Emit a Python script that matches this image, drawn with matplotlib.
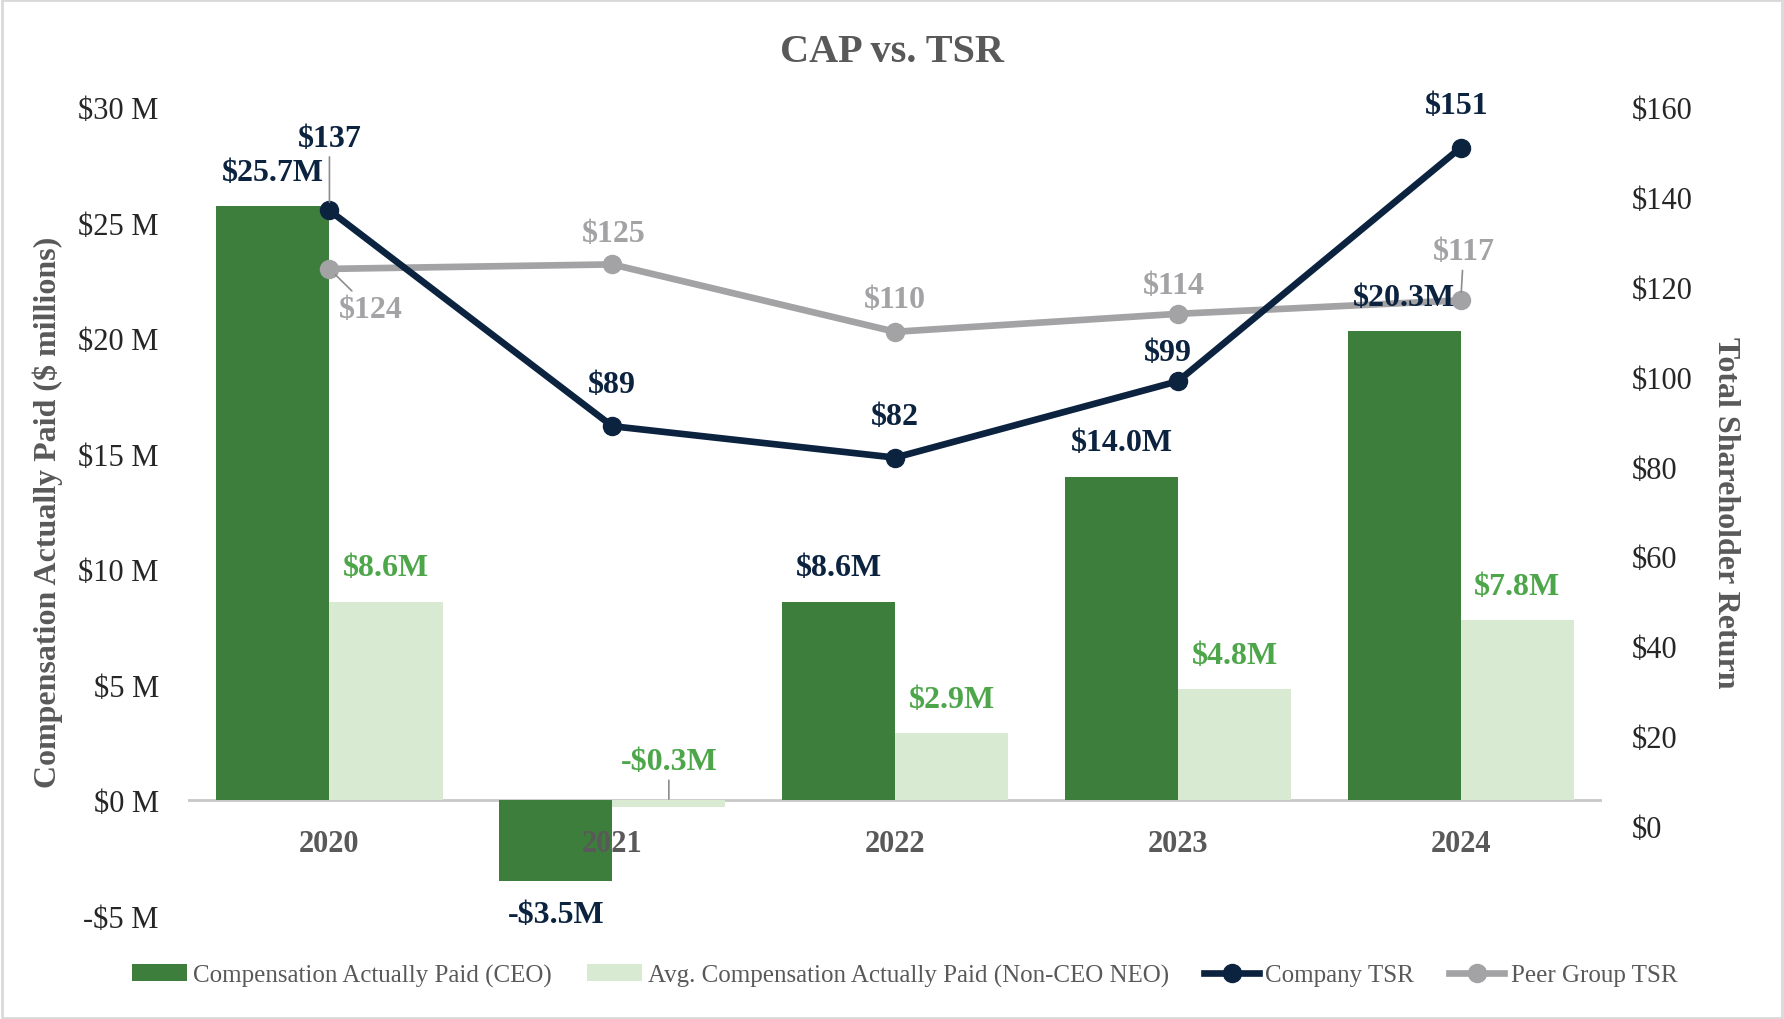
import numpy as np
import matplotlib.pyplot as plt
from matplotlib.patches import Rectangle

plt.rcParams["font.family"] = ["Liberation Serif", "DejaVu Serif"]

# data
years = ["2020", "2021", "2022", "2023", "2024"]
cap_ceo = [25.7, -3.5, 8.6, 14.0, 20.3]
cap_neo = [8.6, -0.3, 2.9, 4.8, 7.8]
tsr_company = [137, 89, 82, 99, 151]
tsr_peer = [124, 125, 110, 114, 117]

CEO_GREEN = "#3d7e3d"
NEO_GREEN = "#d9ead3"
NEO_TEXT = "#4ea64a"
NAVY = "#0c2340"
PEER = "#a3a3a6"
INK = "#595959"
TICK = "#262626"

fig = plt.figure(figsize=(17.84, 10.20), dpi=100)
ax = fig.add_axes([0.1054, 0.101, 0.7927, 0.793])
ax2 = ax.twinx()

x = np.arange(len(years))
w = 0.4
ax.bar(x - w / 2, cap_ceo, w, color=CEO_GREEN, label="Compensation Actually Paid (CEO)", zorder=2)
ax.bar(x + w / 2, cap_neo, w, color=NEO_GREEN,
       label="Avg. Compensation Actually Paid (Non-CEO NEO)", zorder=2)
ax.axhline(0, color="#c8c8c8", lw=2, zorder=1)

ax2.plot(x, tsr_peer, "-o", color=PEER, lw=4.8, ms=13, label="Peer Group TSR", zorder=3)
ax2.plot(x, tsr_company, "-o", color=NAVY, lw=4.8, ms=13, label="Company TSR", zorder=4)

ax.set_xlim(-0.5, 4.5)
ax.set_ylim(-5, 30)
ax2.set_ylim(-20, 160)
ax.set_yticks(range(-5, 31, 5))
ax.set_yticklabels([(f"-${-v} M" if v < 0 else f"${v} M") for v in range(-5, 31, 5)])
ax2.set_yticks(range(0, 161, 20))
ax2.set_yticklabels([f"${v}" for v in range(0, 161, 20)])
ax.set_xticks([])
for a in (ax, ax2):
    for s in a.spines.values():
        s.set_visible(False)
    a.tick_params(length=0, labelsize=22, colors=TICK, pad=21)

ax.set_ylabel("Compensation Actually Paid ($ millions)", fontsize=23,
              fontweight="bold", color=INK)
ax.yaxis.set_label_coords(-0.0885, 0.5)
ax2.set_ylabel("Total Shareholder Return", fontsize=23, fontweight="bold",
               color=INK, rotation=-90)
ax2.yaxis.set_label_coords(1.0975, 0.5)

fig.text(0.5, 0.949, "CAP vs. TSR", ha="center", va="center", fontsize=29,
         fontweight="bold", color=INK)


def lab(text, xy, off, color, trans, leader=False, size=23):
    arrow = None
    if leader:
        arrow = dict(arrowstyle="-", color="#8c8c8c", lw=1.2, shrinkA=1, shrinkB=6)
    ax2.annotate(text, xy=xy, xycoords=trans, xytext=off, textcoords="offset points",
                 ha="center", va="center", fontsize=size, fontweight="bold",
                 color=color, arrowprops=arrow, zorder=6)


# category labels under the zero line
for i, yr in enumerate(years):
    lab(yr, (i, 0), (0, -31), INK, ax.transData, size=22)

# bar labels
for i, v in enumerate(cap_ceo):
    t = f"${v:.1f}M" if v >= 0 else f"-${-v:.1f}M"
    lab(t, (i - w / 2, v), (0, 24.5 if v >= 0 else -24), NAVY, ax.transData)
for i, v in enumerate(cap_neo):
    if v >= 0:
        lab(f"${v:.1f}M", (i + w / 2, v), (0, 24.5), NEO_TEXT, ax.transData)
    else:
        lab(f"-${-v:.1f}M", (i + w / 2, v), (0, 33), NEO_TEXT, ax.transData, leader=True)

# TSR labels
comp_off = [(0, 52), (0, 30), (0, 29.5), (-7, 21), (-3, 30)]
peer_off = [(29.5, -29), (1, 22), (0, 23), (-3, 20.5), (2, 35)]
for i, v in enumerate(tsr_company):
    lab(f"${v}", (i, v), comp_off[i], NAVY, ax2.transData, leader=(i == 0))
for i, v in enumerate(tsr_peer):
    lab(f"${v}", (i, v), peer_off[i], PEER, ax2.transData, leader=(i in (0, 4)))

h1, l1 = ax.get_legend_handles_labels()
h2, l2 = ax2.get_legend_handles_labels()
handles = h1 + [h2[1], h2[0]]
labels = l1 + [l2[1], l2[0]]
fig.legend(handles, labels, loc="center", bbox_to_anchor=(0.507, 0.043), ncol=4,
           frameon=False, fontsize=18, handlelength=2.2, handletextpad=0.25,
           columnspacing=1.4, labelcolor=INK)

fig.add_artist(Rectangle((0.001, 0.001), 0.998, 0.998, transform=fig.transFigure,
                         fill=False, edgecolor="#d9d9d9", lw=2))

fig.savefig("out.png", dpi=100)
